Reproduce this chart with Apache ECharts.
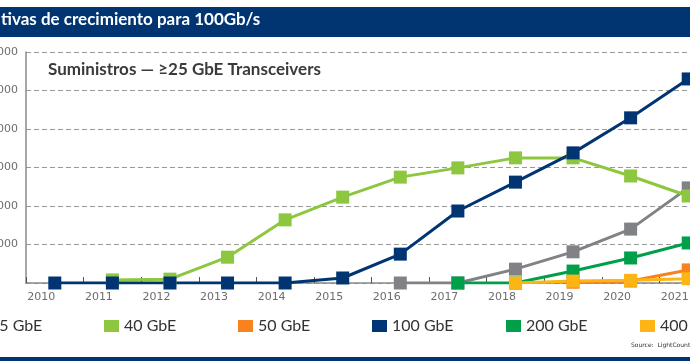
<!DOCTYPE html>
<html>
<head>
<meta charset="utf-8">
<script src="https://cdn.jsdelivr.net/npm/echarts@6/dist/echarts.min.js"></script>
<style>
html,body{margin:0;padding:0;background:#fff;}
#chart{width:690px;height:361px;}
</style>
</head>
<body>
<div id="chart"></div>
<script>
var years = ['2010','2011','2012','2013','2014','2015','2016','2017','2018','2019','2020','2021'];
var yTicks = [0, 1000, 2000, 3000, 4000, 5000, 6000];
var seriesNames = ['25 GbE','40 GbE','50 GbE','100 GbE','200 GbE','400 GbE'];
var colors = ['#808285','#8dc63f','#f7821e','#003473','#00a04b','#fdb515'];
var s25  = [null,null,null,null,null,null,0,0,360,810,1400,2470];
var s40  = [null,80,100,670,1640,2230,2750,2990,3250,3250,2780,2260];
var s50  = [null,null,null,null,null,null,null,null,null,20,50,340];
var s100 = [0,0,0,0,0,130,750,1870,2620,3380,4290,5300];
var s200 = [null,null,null,null,null,null,null,0,0,310,650,1040];
var s400 = [null,null,null,null,null,null,null,null,0,50,70,110];
var allData = [s25,s40,s50,s100,s200,s400];

var chart = echarts.init(document.getElementById('chart'), null, {renderer:'canvas'});
var series = seriesNames.map(function(n,i){
  return {
    name:n, type:'line', data:allData[i],
    symbol:'rect', symbolSize:13, showAllSymbol:true,
    lineStyle:{width:3,color:colors[i]},
    itemStyle:{color:colors[i]},
    emphasis:{disabled:true},
    animation:false
  };
});
var legends = seriesNames.map(function(n,i){
  return {
    show:true, data:[n], left:-30 + 134*i, top:318, icon:'rect',
    itemWidth:15, itemHeight:12, itemGap:5, selectedMode:false, padding:0,
    textStyle:{fontSize:16,color:'#333',fontFamily:'Lato'}
  };
});
chart.setOption({
  animation:false,
  grid:{left:26, top:52, right:-27, bottom:78, containLabel:false, outerBoundsMode:'none'},
  xAxis:{
    type:'category', data:years, boundaryGap:true,
    axisLine:{lineStyle:{color:'#8a8a8a',width:1.5}},
    axisTick:{show:true,inside:true,length:6,lineStyle:{color:'#555'}},
    axisLabel:{color:'#6d6d6d',fontSize:11,margin:9,padding:[0,27,0,0],fontFamily:'DejaVu Sans'},
    splitLine:{show:false}
  },
  yAxis:{
    type:'value', min:yTicks[0], max:yTicks[yTicks.length-1], interval:1000,
    axisLine:{show:true,lineStyle:{color:'#8a8a8a',width:1.5}},
    axisTick:{show:false},
    axisLabel:{color:'#6d6d6d',fontSize:11,margin:8,showMinLabel:false,fontFamily:'DejaVu Sans',
      formatter:function(v){return v.toLocaleString('en-US');}},
    splitLine:{show:true,lineStyle:{color:'#999',type:[5,3],width:1}}
  },
  legend:legends,
  graphic:[
    {type:'rect',shape:{x:0,y:7,width:690,height:30},style:{fill:'#003571'},silent:true},
    {type:'text',left:1,top:11,style:{text:'tivas de crecimiento para 100Gb/s',fill:'#fff',font:'bold 17px Lato'},silent:true},
    {type:'text',left:48,top:61,style:{text:'Suministros — ≥25 GbE Transceivers',fill:'#3a3a3a',font:'bold 17px Lato'},silent:true},
    {type:'text',left:631,top:342,style:{text:'Source:  LightCounting',fill:'#333',font:'6px "DejaVu Sans"'},silent:true},
    {type:'rect',shape:{x:0,y:357,width:690,height:4},style:{fill:'#003571'},silent:true}
  ],
  series:series
});
</script>
</body>
</html>
